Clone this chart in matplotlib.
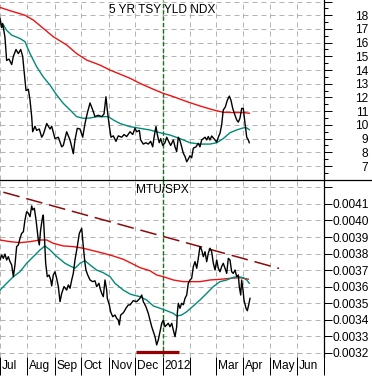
import matplotlib
matplotlib.use("Agg")
from matplotlib import pyplot
from matplotlib.lines import Line2D
from matplotlib.ticker import MultipleLocator
from matplotlib.transforms import ScaledTranslation
import numpy

# x values are days counted from 1 Jul 2011
month_starts = [0, 31, 62, 92, 123, 153, 184, 215, 244, 275, 305, 336, 366]
month_labels = ["Jul", "Aug", "Sep", "Oct", "Nov", "Dec", "2012", "", "Mar", "Apr", "May", "Jun", ""]
year_start = 184

# 5 YR TSY YLD NDX
yld_days = [0, 1.9, 3.0, 5.6, 7.5, 10.2, 13.2, 15.1, 18.1, 20.7, 23.4, 25.6, 27.1, 29.4, 32.0,
            33.9, 35.8, 36.9, 39.5, 41.4, 44.4, 47.1, 48.9, 52.8, 56.5, 58.4, 62.1, 65.9, 69.7,
            71.5, 75.3, 79.1, 81.0, 82.8, 84.7, 87.3, 90.4, 93.4, 96.0, 98.6, 101.7, 104.7, 107.3,
            111.0, 114.9, 117.5, 119.7, 121.2, 123.5, 125.4, 128.0, 131.0, 133.6, 137.5, 140.1,
            143.1, 146.9, 149.9, 152.5, 154.4, 157.4, 158.9, 161.9, 164.9, 167.5, 170.2, 172.5,
            174.3, 176.2, 177.7, 179.9, 181.5, 183.8, 186.4, 188.3, 191.2, 192.8, 195.8, 197.7,
            199.6, 201.4, 203.3, 205.2, 207.1, 209.0, 210.9, 212.7, 214.6, 216.5, 218.4, 221.4,
            224.0, 225.9, 227.8, 229.7, 231.6, 233.5, 235.3, 237.2, 239.1, 242.9, 244.8, 246.6,
            248.5, 250.4, 252.2, 254.5, 256.8, 259.0, 260.9, 262.9, 265.5, 267.4, 269.2, 271.1,
            273.0, 274.8, 276.8, 278.7, 280.5, 281.6]
yld_vals = [17.77, 17.1, 17.4, 16.4, 14.7, 14.8, 14.4, 15.0, 15.5, 15.2, 15.5, 15.0, 14.0, 12.5, 12.6,
            11.8, 10.6, 9.5, 9.9, 9.6, 9.7, 9.1, 9.3, 10.1, 9.7, 9.9, 9.0, 9.1, 8.4,
            8.5, 9.5, 8.9, 8.4, 7.9, 8.9, 9.75, 9.7, 9.1, 10.1, 10.85, 11.6, 11.1, 10.6,
            10.7, 10.6, 10.8, 12.05, 11.1, 9.9, 9.1, 9.2, 8.8, 9.2, 9.1, 9.3,
            9.15, 9.5, 9.3, 9.75, 9.5, 9.6, 8.9, 8.6, 8.7, 8.6, 8.8, 8.4,
            9.2, 9.88, 9.3, 8.7, 9.0, 8.5, 8.7, 9.1, 8.7, 8.5, 8.9, 8.4,
            8.05, 9.1, 8.85, 8.4, 7.93, 7.7, 7.31, 7.5, 7.75, 7.6, 8.3, 8.4,
            8.66, 8.4, 8.9, 9.0, 9.1, 8.9, 9.15, 8.9, 9.19, 8.9, 8.75, 9.1,
            9.39, 10.0, 11.09, 11.3, 11.8, 12.1, 11.8, 11.2, 10.7, 10.36, 10.2, 10.5,
            11.2, 11.2, 10.1, 9.1, 8.9, 8.7]
yld_ma50_days = [0, 3.8, 7.5, 13.2, 22.6, 28.2, 33.9, 41.4, 48.9, 56.5, 64.0, 71.5, 79.1, 86.6, 94.1,
                 101.7, 109.2, 116.7, 122.3, 128.0, 135.6, 146.9, 158.1, 169.4, 180.7, 192.0, 203.3,
                 214.6, 225.9, 237.2, 244.8, 252.2, 259.8, 267.4, 273.0, 276.8, 278.7, 281.6]
yld_ma50 = [17.36, 17.3, 16.9, 16.55, 16.3, 16.07, 15.2, 14.24, 13.5, 12.9, 12.18, 11.57, 11.09, 10.6, 10.48,
            10.5, 10.6, 10.6, 10.6, 10.36, 10.1, 9.87, 9.75, 9.63, 9.43, 9.26, 9.0,
            8.7, 8.6, 8.6, 8.7, 9.0, 9.43, 9.63, 9.75, 9.8, 9.78, 9.65]
yld_ma200_days = [0, 11.3, 28.2, 37.6, 48.9, 60.2, 75.3, 86.6, 97.9, 113.0, 124.3, 135.6, 146.9,
                  158.1, 173.2, 184.5, 195.8, 210.9, 225.9, 241.0, 252.2, 263.5, 274.8, 281.6]
yld_ma200 = [18.57, 18.33, 18.0, 17.65, 17.04, 16.43, 15.83, 15.2, 14.73, 14.36, 14.0, 13.7, 13.4,
             13.03, 12.6, 12.3, 12.06, 11.7, 11.38, 11.09, 10.92, 10.9, 10.9, 10.85]

# MTU/SPX ratio, in units of 1e-4
mtu_days = [0, 1.9, 3.8, 5.6, 7.5, 9.4, 11.3, 13.2, 15.1, 16.9, 18.8, 20.7, 22.6, 24.5, 26.4,
            28.2, 30.1, 32.0, 33.9, 35.8, 36.9, 38.8, 40.7, 43.3, 44.4, 45.9, 47.8, 48.9, 50.0,
            51.6, 53.4, 55.4, 57.3, 58.4, 60.2, 62.1, 64.0, 65.9, 67.8, 69.7, 72.3, 75.3, 77.2,
            79.1, 81.0, 82.8, 84.7, 87.3, 89.6, 92.3, 94.1, 96.0, 97.1, 99.1, 101.7, 104.7, 107.3,
            109.2, 111.8, 113.0, 114.9, 116.7, 118.6, 120.5, 121.2, 123.5, 125.0, 127.3, 129.9,
            131.8, 133.6, 134.8, 136.3, 138.6, 140.1, 142.3, 144.9, 146.9, 150.6, 154.4, 158.1,
            160.1, 161.9, 164.9, 167.5, 169.4, 171.4, 173.2, 175.1, 177.0, 178.8, 180.7, 182.7,
            184.5, 186.4, 188.3, 190.1, 192.0, 194.0, 195.8, 197.7, 199.6, 200.3, 201.4, 203.3,
            205.2, 207.1, 209.0, 210.9, 212.7, 214.6, 216.5, 218.4, 220.3, 222.2, 224.0, 225.9,
            227.8, 229.7, 231.6, 233.5, 235.3, 237.2, 239.1, 241.0, 242.9, 244.8, 246.6, 248.5,
            250.4, 252.2, 254.2, 256.1, 257.9, 259.8, 261.7, 263.5, 265.5, 267.4, 269.2, 270.3,
            271.9, 273.0, 274.5, 275.6, 277.9, 279.4, 281.3, 282.4]
mtu_x1e4 = [37.61, 37.91, 37.71, 37.97, 37.61, 37.81, 37.51, 37.31, 36.6, 37.31, 38.42, 38.52, 38.92, 39.22, 39.32,
            40.03, 40.53, 40.44, 40.23, 40.88, 40.64, 40.74, 40.03, 38.82, 38.52, 39.43, 40.13, 40.33, 39.22,
            37.41, 36.6, 36.7, 36.4, 36.04, 36.7, 36.9, 36.5, 36.0, 35.09, 35.59, 36.0, 35.79, 36.1,
            35.9, 36.4, 36.8, 37.61, 38.42, 39.22, 39.53, 38.42, 37.41, 37.0, 36.7, 36.4, 36.3, 36.35,
            36.0, 36.2, 35.9, 35.59, 35.39, 36.4, 35.8, 35.29, 34.89, 34.48, 34.18, 34.28,
            34.08, 33.98, 33.68, 34.28, 34.38, 34.48, 34.69, 34.89, 34.89, 35.15, 35.09, 35.29,
            35.49, 35.09, 34.78, 34.38, 33.98, 33.57, 33.27, 32.97, 32.47, 32.77, 33.27, 33.78,
            33.98, 33.57, 33.68, 33.78, 33.57, 33.78, 33.37, 32.97, 33.57, 34.38, 34.99, 34.69,
            34.99, 34.9, 35.29, 35.49, 36.2, 36.4, 36.5, 37.21, 37.51, 37.11, 37.71, 38.42,
            38.22, 37.81, 38.11, 37.51, 38.02, 38.32, 38.11, 37.41, 37.0, 37.61, 37.11, 36.9,
            37.21, 37.41, 37.11, 36.8, 37.71, 37.61, 36.9, 36.8, 37.0, 36.6, 36.7, 36.0,
            35.49, 36.4, 35.8, 35.19, 34.69, 34.54, 34.99, 35.29]
mtu_ma50_days = [0, 7.5, 15.1, 22.6, 30.1, 37.6, 45.2, 50.8, 56.5, 62.1, 73.4, 79.1, 84.7, 90.4, 96.0,
                 101.7, 109.2, 116.7, 124.3, 129.9, 139.3, 146.9, 150.6, 158.1, 165.7, 173.2, 180.7,
                 188.3, 195.8, 199.6, 205.2, 210.9, 218.4, 225.9, 233.5, 241.0, 248.5, 256.1, 263.5,
                 269.2, 274.8, 278.7, 281.6]
mtu_ma50_x1e4 = [35.79, 36.2, 36.6, 36.9, 37.41, 37.81, 38.22, 38.46, 38.22, 37.91, 37.41, 37.25, 37.11, 37.41, 37.57,
                 37.31, 37.0, 36.84, 36.6, 36.2, 35.79, 35.55, 35.49, 35.39, 35.19, 34.83, 34.69,
                 34.54, 34.38, 34.22, 34.28, 34.48, 34.83, 35.19, 35.59, 36.0, 36.3, 36.4, 36.56,
                 36.6, 36.54, 36.4, 36.2]
mtu_ma200_days = [0, 11.3, 22.6, 33.9, 45.2, 52.8, 60.2, 71.5, 82.8, 94.1, 105.4, 116.7, 128.0, 139.3,
                  146.9, 158.1, 169.4, 177.0, 184.5, 195.8, 207.1, 225.9, 237.2, 248.5, 259.8, 271.1, 280.5]
mtu_ma200_x1e4 = [38.82, 38.72, 38.66, 38.72, 38.82, 38.82, 38.62, 38.46, 38.42, 38.32, 38.17, 38.02, 37.85, 37.65,
                  37.45, 37.15, 36.96, 36.7, 36.6, 36.4, 36.3, 36.3, 36.4, 36.44, 36.5, 36.54, 36.45]
trend_days = [3.8, 315.2]
trend_x1e4 = [41.71, 37.10]
support_days = [153.6, 202.2]
support_x1e4 = [32.06, 32.06]

pyplot.rcParams['font.family'] = ['Liberation Sans', 'DejaVu Sans']
pyplot.rcParams['font.size'] = 8.6

fig = pyplot.figure(figsize=(3.72, 3.76), dpi=100)
ax1 = fig.add_axes([0, 1 - 180 / 376, 324 / 372, 180 / 376])
ax2 = fig.add_axes([0, 1 - 357 / 376, 324 / 372, 177 / 376])

grid_style = dict(color='#b4b4b4', linestyle=(0, (5, 4)), linewidth=0.72)
black = '#000000'
teal = '#008a78'
red = '#f01010'

for ax in (ax1, ax2):
    ax.set_xlim(0, 366)
    ax.grid(True, **grid_style)
    ax.set_axisbelow(True)
    ax.axvline(year_start, color='#127512', linewidth=1.0, dashes=(3, 1.6))
    ax.spines['left'].set_visible(False)
    ax.spines['right'].set_linewidth(0.9)
    ax.yaxis.tick_right()

# top panel
ax1.plot(yld_ma200_days, yld_ma200, color=red, linewidth=1.0)
ax1.plot(yld_ma50_days, yld_ma50, color=teal, linewidth=1.0)
ax1.plot(yld_days, yld_vals, color=black, linewidth=1.0)
ax1.set_ylim(5.98, 19.11)
ax1.set_yticks(range(6, 20))
ax1.set_yticklabels(['' if v in (6, 19) else str(v) for v in range(6, 20)])
ax1.yaxis.set_minor_locator(MultipleLocator(0.5))
ax1.tick_params(axis='y', which='major', direction='out', length=5.8, width=0.72, pad=25.9)
ax1.tick_params(axis='y', which='minor', direction='out', length=3.0, width=0.72)
for label in ax1.get_yticklabels():
    label.set_horizontalalignment('right')
ax1.set_xticks(month_starts)
ax1.tick_params(axis='x', length=0, labelbottom=False)
ax1.spines['top'].set_visible(False)
ax1.spines['bottom'].set_visible(False)
ax1.text(0.5, 0.942, "5 YR TSY YLD NDX", transform=ax1.transAxes, ha='center', va='center')

# bottom panel
scale = 1e-4
ax2.plot(trend_days, numpy.array(trend_x1e4) * scale, color='#8c0a0a', linewidth=1.1, dashes=(11, 4.5))
ax2.plot(support_days, numpy.array(support_x1e4) * scale, color='#960000', linewidth=2.3,
         solid_capstyle='butt')
ax2.plot(mtu_ma200_days, numpy.array(mtu_ma200_x1e4) * scale, color=red, linewidth=1.0)
ax2.plot(mtu_ma50_days, numpy.array(mtu_ma50_x1e4) * scale, color=teal, linewidth=1.0)
ax2.plot(mtu_days, numpy.array(mtu_x1e4) * scale, color=black, linewidth=1.0)
ax2.set_ylim(0.003174, 0.004245)
ratio_ticks = [0.0032, 0.0033, 0.0034, 0.0035, 0.0036, 0.0037, 0.0038, 0.0039, 0.0040, 0.0041, 0.0042]
ax2.set_yticks(ratio_ticks)
ax2.set_yticklabels(['%.4f' % v if v < 0.00415 else '' for v in ratio_ticks])
ax2.tick_params(axis='y', direction='out', length=5.8, width=0.72, pad=0.3)
ax2.set_xticks(month_starts)
ax2.set_xticklabels(month_labels)
ax2.tick_params(axis='x', direction='out', length=13, width=0.72, pad=-10.8)
offset = ScaledTranslation(1.3 / 72, 0, fig.dpi_scale_trans)
for label in ax2.get_xticklabels():
    label.set_horizontalalignment('left')
    label.set_transform(label.get_transform() + offset)
ax2.spines['top'].set_visible(False)
ax2.spines['bottom'].set_visible(False)
ax2.text(0.5, 0.9435, "MTU/SPX", transform=ax2.transAxes, ha='center', va='center')

# separator between the panels, running under the price labels too
fig.add_artist(Line2D([0, 1], [1 - 180 / 376, 1 - 180 / 376], transform=fig.transFigure,
                      color='black', linewidth=0.9))

fig.savefig('out.png', dpi=100)
